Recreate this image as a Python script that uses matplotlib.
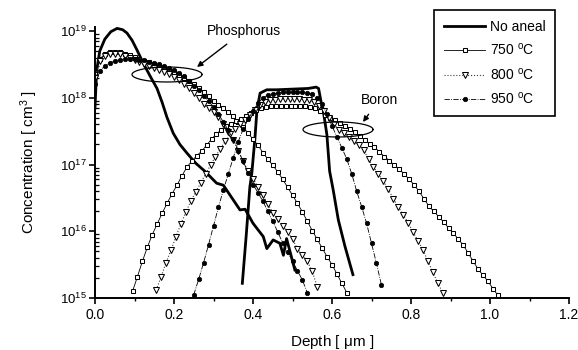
import numpy as np
import matplotlib
matplotlib.use("Agg")
import matplotlib.pyplot as plt
from matplotlib.ticker import MultipleLocator, LogLocator, NullFormatter, FixedLocator

plt.rcParams['font.family'] = ['Liberation Sans', 'DejaVu Sans']
plt.rcParams['mathtext.default'] = 'regular'

STEP = 0.0125

# ---------------- data (log10 of concentration, cm^-3) ----------------
# Phosphorus, annealed (depth grid starts at 0.0 um)
p750_start = 0.0
p750_log = [18.35, 18.58, 18.66, 18.69, 18.69, 18.68, 18.66, 18.64, 18.61, 18.58,
            18.55, 18.53, 18.50, 18.47, 18.44, 18.41, 18.38, 18.34, 18.30, 18.25,
            18.20, 18.15, 18.09, 18.02, 17.95, 17.89, 17.84, 17.78, 17.72, 17.64,
            17.56, 17.47, 17.38, 17.29, 17.18, 17.08, 16.99, 16.89, 16.78, 16.66,
            16.54, 16.42, 16.29, 16.15, 16.01, 15.88, 15.75, 15.62, 15.50, 15.36,
            15.22, 15.08]
p800_start = 0.0
p800_log = [18.30, 18.55, 18.63, 18.66, 18.66, 18.65, 18.63, 18.60, 18.57, 18.54,
            18.51, 18.48, 18.45, 18.42, 18.39, 18.35, 18.31, 18.27, 18.21, 18.14,
            18.07, 17.99, 17.91, 17.84, 17.78, 17.71, 17.60, 17.48, 17.37, 17.21,
            17.05, 16.90, 16.79, 16.67, 16.54, 16.41, 16.28, 16.18, 16.08, 15.99,
            15.88, 15.74, 15.64, 15.55, 15.40, 15.17]
p950_start = 0.0
p950_log = [18.20, 18.40, 18.48, 18.52, 18.55, 18.57, 18.58, 18.58, 18.58, 18.57,
            18.56, 18.54, 18.52, 18.50, 18.47, 18.45, 18.42, 18.37, 18.32, 18.25,
            18.18, 18.11, 18.03, 17.95, 17.86, 17.75, 17.64, 17.51, 17.38, 17.21,
            17.05, 16.88, 16.70, 16.58, 16.45, 16.30, 16.15, 15.99, 15.83, 15.69,
            15.55, 15.41, 15.27, 15.08]

# Boron, annealed
b750_start = 0.095
b750_log = [15.10, 15.32, 15.55, 15.76, 15.95, 16.11, 16.27, 16.42, 16.56, 16.69,
            16.83, 16.96, 17.05, 17.13, 17.20, 17.29, 17.38, 17.46, 17.52, 17.57,
            17.61, 17.65, 17.68, 17.72, 17.77, 17.81, 17.84, 17.86, 17.87, 17.88,
            17.88, 17.88, 17.88, 17.88, 17.88, 17.87, 17.86, 17.84, 17.80, 17.74,
            17.70, 17.66, 17.62, 17.58, 17.53, 17.48, 17.43, 17.37, 17.31, 17.26,
            17.19, 17.12, 17.06, 16.99, 16.93, 16.86, 16.78, 16.70, 16.60, 16.49,
            16.38, 16.30, 16.22, 16.14, 16.05, 15.97, 15.88, 15.79, 15.67, 15.55,
            15.43, 15.34, 15.25, 15.14, 15.04]
b800_start = 0.155
b800_log = [15.12, 15.32, 15.53, 15.72, 15.92, 16.11, 16.29, 16.45, 16.59, 16.72,
            16.86, 16.99, 17.12, 17.24, 17.35, 17.45, 17.53, 17.60, 17.67, 17.74,
            17.82, 17.89, 17.94, 17.96, 17.97, 17.98, 17.98, 17.98, 17.98, 17.98,
            17.97, 17.96, 17.93, 17.88, 17.80, 17.70, 17.60, 17.52, 17.47, 17.41,
            17.35, 17.30, 17.22, 17.08, 16.96, 16.86, 16.75, 16.63, 16.49, 16.37,
            16.25, 16.13, 15.99, 15.86, 15.72, 15.56, 15.39, 15.23, 15.08]
b950_start = 0.25
b950_log = [15.05, 15.28, 15.53, 15.80, 16.08, 16.36, 16.62, 16.86, 17.10, 17.34,
            17.53, 17.68, 17.80, 17.92, 18.00, 18.04, 18.06, 18.07, 18.08, 18.08,
            18.08, 18.08, 18.08, 18.07, 18.05, 18.00, 17.90, 17.75, 17.58, 17.41,
            17.25, 17.08, 16.86, 16.60, 16.37, 16.12, 15.82, 15.52, 15.20]

# As-implanted (no anneal) profiles
na_p_depth = [0.0, 0.004, 0.012, 0.025, 0.04, 0.056, 0.07, 0.081, 0.094, 0.106,
              0.122, 0.14, 0.157, 0.17, 0.182, 0.198, 0.215, 0.233, 0.255, 0.278,
              0.308, 0.325, 0.35, 0.367, 0.38, 0.40, 0.426, 0.435, 0.451, 0.468,
              0.477, 0.485, 0.494, 0.506]
na_p_log = [17.85, 18.40, 18.70, 18.88, 18.99, 19.04, 19.02, 18.97, 18.86, 18.72,
            18.52, 18.32, 18.14, 17.93, 17.71, 17.47, 17.30, 17.17, 17.02, 16.90,
            16.72, 16.69, 16.47, 16.32, 16.33, 16.12, 15.92, 15.74, 15.87, 15.82,
            15.64, 15.89, 15.69, 15.42]
na_b_depth = [0.373, 0.383, 0.392, 0.397, 0.405, 0.41, 0.418, 0.435, 0.46, 0.50,
              0.54, 0.56, 0.566, 0.572, 0.578, 0.587, 0.594, 0.603, 0.616, 0.633,
              0.653]
na_b_log = [15.22, 15.95, 16.66, 16.87, 17.40, 17.82, 18.07, 18.12, 18.12, 18.13,
            18.14, 18.16, 18.14, 17.95, 17.80, 17.45, 16.90, 16.62, 16.17, 15.77,
            15.35]

labels = ["No aneal", "750 $^{o}$C", "800 $^{o}$C", "950 $^{o}$C"]


def grid(start, vals):
    return start + STEP * np.arange(len(vals))


fig = plt.figure(figsize=(5.78, 3.5), dpi=100)
ax = fig.add_axes([95 / 578, 52 / 350, 474 / 578, 271 / 350])

line_kw = dict(color='black')
s750 = dict(ls='-', lw=0.6, marker='s', ms=3.2, mfc='white', mec='black', mew=0.75, color='black')
s800 = dict(ls=':', lw=0.8, marker='v', ms=3.8, mfc='white', mec='black', mew=0.75, color='0.25')
s950 = dict(ls='-.', lw=0.6, marker='o', ms=3.2, mfc='black', mec='black', mew=0.5, color='black')

h0, = ax.plot(na_p_depth, 10 ** np.array(na_p_log), lw=2.0, **line_kw)
ax.plot(na_b_depth, 10 ** np.array(na_b_log), lw=2.0, **line_kw)

h1, = ax.plot(grid(p750_start, p750_log), 10 ** np.array(p750_log), **s750)
ax.plot(grid(b750_start, b750_log), 10 ** np.array(b750_log), **s750)
h2, = ax.plot(grid(p800_start, p800_log), 10 ** np.array(p800_log), **s800)
ax.plot(grid(b800_start, b800_log), 10 ** np.array(b800_log), **s800)
h3, = ax.plot(grid(p950_start, p950_log), 10 ** np.array(p950_log), **s950)
ax.plot(grid(b950_start, b950_log), 10 ** np.array(b950_log), **s950)

ax.set_yscale('log')
ax.set_xlim(0, 1.2)
ax.set_ylim(1e15, 1.15e19)

for s in ['top', 'right']:
    ax.spines[s].set_visible(False)
for s in ['left', 'bottom']:
    ax.spines[s].set_linewidth(1.4)

ax.xaxis.set_major_locator(MultipleLocator(0.2))
ax.xaxis.set_minor_locator(MultipleLocator(0.1))
ax.xaxis.set_major_formatter(matplotlib.ticker.FormatStrFormatter('%.1f'))
ax.yaxis.set_major_locator(FixedLocator([1e15, 1e16, 1e17, 1e18, 1e19]))
ax.set_yticklabels(['$10^{15}$', '$10^{16}$', '$10^{17}$', '$10^{18}$', '$10^{19}$'])
ax.yaxis.set_minor_locator(LogLocator(base=10, subs=np.arange(2, 10), numticks=20))
ax.yaxis.set_minor_formatter(NullFormatter())
ax.tick_params(axis='x', which='major', direction='out', length=4, width=1.2, labelsize=10, pad=3)
ax.tick_params(axis='x', which='minor', direction='out', length=2.5, width=1.0)
ax.tick_params(axis='y', which='major', direction='out', length=4, width=1.2, labelsize=9.5, pad=2)
ax.tick_params(axis='y', which='minor', direction='in', length=3, width=0.9)

ax.set_xlabel('Depth [ $\\mu$m ]', fontsize=11, labelpad=8)
ax.set_ylabel('Concentration [ cm$^{3}$ ]', fontsize=11, labelpad=14)

# ellipses marking the annealed profiles (drawn in axes coordinates)
t = np.linspace(0, 2 * np.pi, 200)
for cx, cy in [((167 - 95) / 474, (298 - 74.5) / 271), ((338 - 95) / 474, (298 - 129.5) / 271)]:
    ax.plot(cx + (35 / 474) * np.cos(t), cy + (7.5 / 271) * np.sin(t), color='black',
            lw=0.9, transform=ax.transAxes, clip_on=False)

ax.annotate('Phosphorus', xy=((197 - 95) / 474, (298 - 67) / 271), xycoords='axes fraction',
            xytext=((244 - 95) / 474, (298 - 31) / 271), textcoords='axes fraction',
            ha='center', va='center', fontsize=10,
            arrowprops=dict(arrowstyle='-|>', color='black', lw=1.0, shrinkA=4, shrinkB=0,
                            mutation_scale=8))
ax.annotate('Boron', xy=((363 - 95) / 474, (298 - 122) / 271), xycoords='axes fraction',
            xytext=((379 - 95) / 474, (298 - 100) / 271), textcoords='axes fraction',
            ha='center', va='center', fontsize=10,
            arrowprops=dict(arrowstyle='-|>', color='black', lw=1.0, shrinkA=4, shrinkB=0,
                            mutation_scale=8))

leg = ax.legend([h0, h1, h2, h3], labels, loc='upper right',
                bbox_to_anchor=(555 / 578, 1 - 10 / 350), bbox_transform=fig.transFigure,
                borderaxespad=0, fontsize=10, handlelength=3.0, handletextpad=0.3,
                labelspacing=0.6, borderpad=0.7, fancybox=False, framealpha=1,
                edgecolor='black', markerscale=1.0)
leg.get_frame().set_linewidth(1.2)

fig.savefig('out.png', dpi=100)
